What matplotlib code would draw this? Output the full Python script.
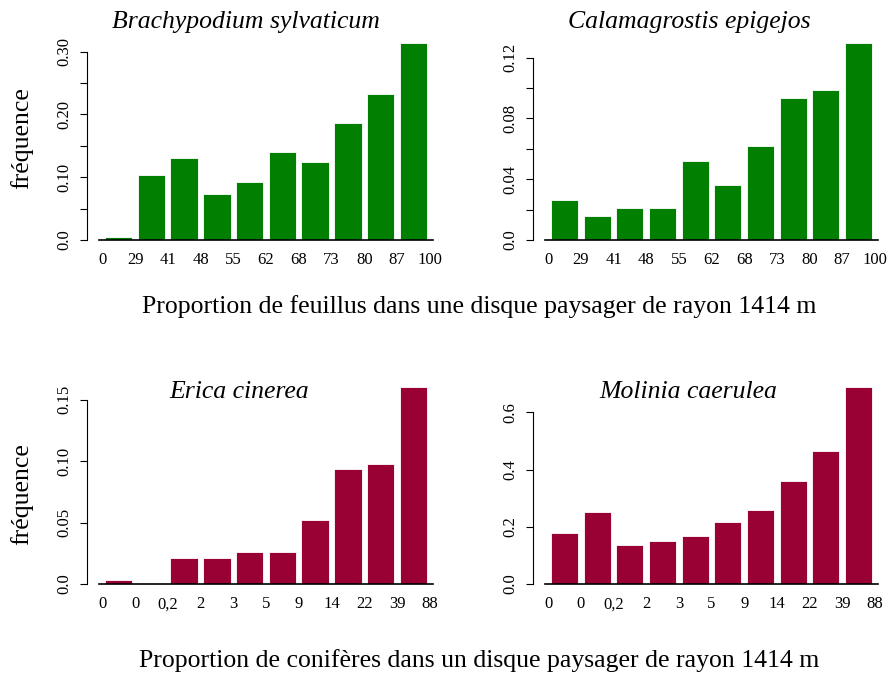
import matplotlib
matplotlib.use("Agg")
import matplotlib.pyplot as plt
import numpy as np

# ---------------- data ----------------
labels_feuillus = ["0", "29", "41", "48", "55", "62", "68", "73", "80", "87", "100"]
labels_coniferes = ["0", "0", "0,2", "2", "3", "5", "9", "14", "22", "39", "88"]

brachypodium = [0.0048, 0.104, 0.130, 0.0727, 0.0924, 0.1396, 0.1237, 0.186, 0.2326, 0.314]
calamagrostis = [0.0261, 0.0160, 0.0211, 0.0211, 0.0522, 0.0362, 0.0621, 0.0935, 0.0985, 0.1297]
erica = [0.0033, 0.0, 0.0212, 0.0212, 0.0263, 0.0263, 0.0521, 0.0933, 0.0979, 0.1603]
molinia = [0.178, 0.2517, 0.1363, 0.1515, 0.1666, 0.2179, 0.2598, 0.3588, 0.4637, 0.6897]

titles = ["Brachypodium sylvaticum", "Calamagrostis epigejos", "Erica cinerea", "Molinia caerulea"]
xlabel_top = "Proportion de feuillus dans une disque paysager de rayon 1414 m"
xlabel_bottom = "Proportion de conifères dans un disque paysager de rayon 1414 m"
ylabel = "fréquence"

ticks_tl = [0.0, 0.05, 0.10, 0.15, 0.20, 0.25, 0.30]
ticklabels_tl = ["0.0", "", "0.10", "", "0.20", "", "0.30"]
ticks_tr = [0.0, 0.02, 0.04, 0.06, 0.08, 0.10, 0.12]
ticklabels_tr = ["0.0", "", "0.04", "", "0.08", "", "0.12"]
ticks_bl = [0.0, 0.05, 0.10, 0.15]
ticklabels_bl = ["0.0", "0.05", "0.10", "0.15"]
ticks_br = [0.0, 0.2, 0.4, 0.6]
ticklabels_br = ["0.0", "0.2", "0.4", "0.6"]

green = "#007F00"
crimson = "#990033"

# ---------------- figure ----------------
W, H, DPI = 890, 675, 100
plt.rcParams['font.family'] = ['Liberation Serif', 'DejaVu Serif']
fig = plt.figure(figsize=(W / DPI, H / DPI), dpi=DPI)


def make_axes(left, right, y0, top, scale):
    ax = fig.add_axes([left / W, (H - y0) / H, (right - left) / W, (y0 - top) / H])
    ax.set_ylim(0, (y0 - top) / scale)
    return ax


def draw(ax, values, color, xlabels, ticks, ticklabels, title, title_xy):
    # spine position first (it resets tick properties)
    for s in ["top", "right"]:
        ax.spines[s].set_visible(False)
    ax.spines["left"].set_position(("outward", 9))
    ax.spines["left"].set_bounds(ticks[0], ticks[-1])
    ax.spines["left"].set_linewidth(0.8)
    ax.spines["bottom"].set_linewidth(1.2)
    ax.patch.set_visible(False)

    n = len(values)
    pos = 0.7 + 1.2 * np.arange(n)
    ax.bar(pos, values, width=1.0, color=color, edgecolor="white", linewidth=0.6)
    edges = 0.1 + 1.2 * np.arange(n + 1)
    ax.set_xlim(-0.02, 12.22)
    ax.set_xticks(edges)
    ax.set_xticklabels(xlabels, fontsize=12)
    ax.tick_params(axis="x", length=0, pad=9)
    ax.set_yticks(ticks)
    ax.set_yticklabels(ticklabels, fontsize=12, rotation=90, va="center")
    ax.tick_params(axis="y", length=5, width=0.8, pad=5)
    fig.text(title_xy[0] / W, 1 - title_xy[1] / H, title, fontsize=18.5, style="italic",
             ha="center", va="center")


ax1 = make_axes(99, 433, 240, 38, 627.7)
draw(ax1, brachypodium, green, labels_feuillus, ticks_tl, ticklabels_tl, titles[0], (246, 22))
ax2 = make_axes(545, 878, 240, 38, 1519.0)
draw(ax2, calamagrostis, green, labels_feuillus, ticks_tr, ticklabels_tr, titles[1], (689, 22))
ax3 = make_axes(99, 433, 584, 385, 1229.0)
draw(ax3, erica, crimson, labels_coniferes, ticks_bl, ticklabels_bl, titles[2], (239, 392))
ax4 = make_axes(545, 878, 584, 385, 286.0)
draw(ax4, molinia, crimson, labels_coniferes, ticks_br, ticklabels_br, titles[3], (688, 392))

fig.text(479 / W, 1 - 307 / H, xlabel_top, fontsize=18.5, ha="center", va="center")
fig.text(479 / W, 1 - 661 / H, xlabel_bottom, fontsize=18.5, ha="center", va="center")
fig.text(22 / W, 1 - 138 / H, ylabel, fontsize=18.5, rotation=90, ha="center", va="center")
fig.text(22 / W, 1 - 494 / H, ylabel, fontsize=18.5, rotation=90, ha="center", va="center")

fig.savefig("out.png", dpi=DPI)
